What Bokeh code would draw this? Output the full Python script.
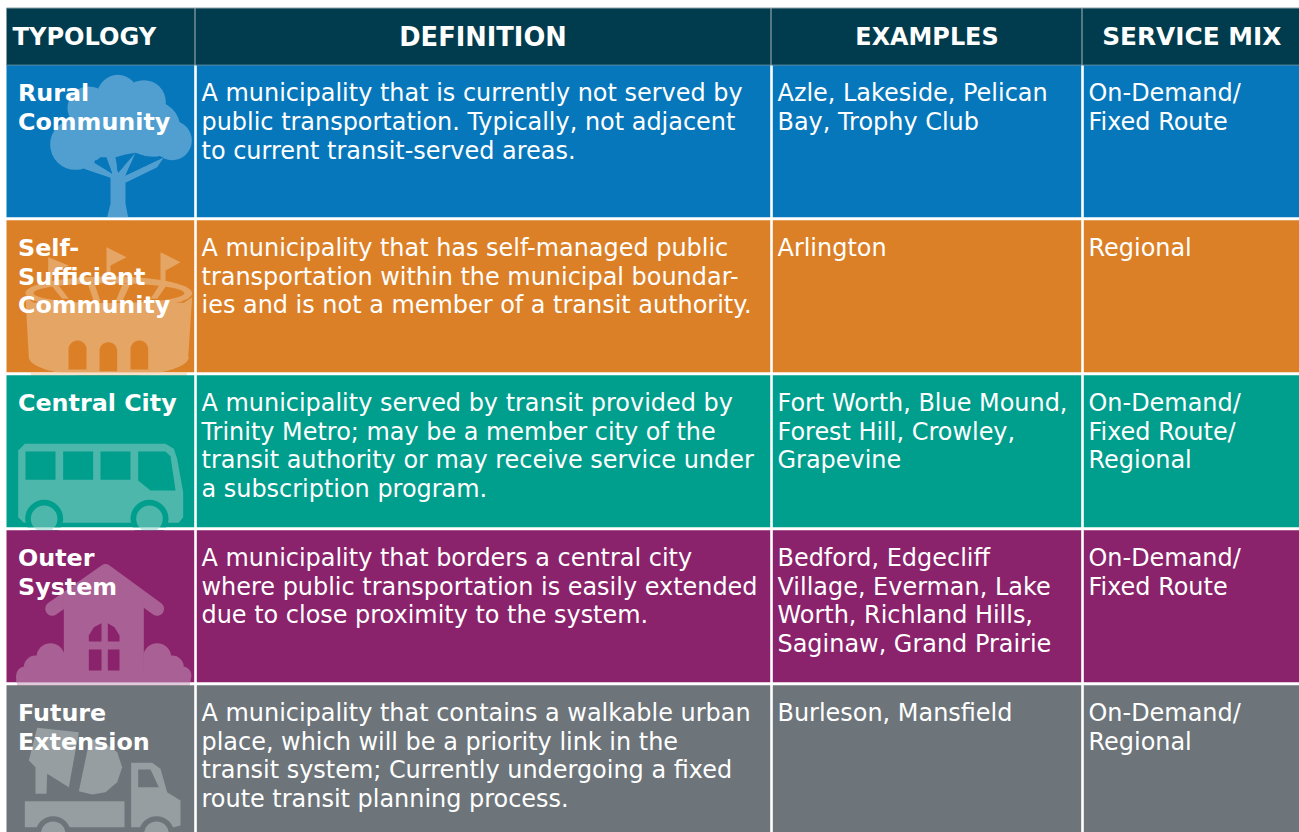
import numpy as np
from bokeh.plotting import figure
from bokeh.models import Range1d
from bokeh.embed import file_html
from bokeh.resources import INLINE
from bokeh.core.properties import value

headers = ["TYPOLOGY", "DEFINITION", "EXAMPLES", "SERVICE MIX"]
typology = [["Rural", "Community"], ["Self-", "Sufficient", "Community"], ["Central City"],
            ["Outer", "System"], ["Future", "Extension"]]
definition = [
    ["A municipality that is currently not served by", "public transportation. Typically, not adjacent", "to current transit-served areas."],
    ["A municipality that has self-managed public", "transportation within the municipal boundar-", "ies and is not a member of a transit authority."],
    ["A municipality served by transit provided by", "Trinity Metro; may be a member city of the", "transit authority or may receive service under", "a subscription program."],
    ["A municipality that borders a central city", "where public transportation is easily extended", "due to close proximity to the system."],
    ["A municipality that contains a walkable urban", "place, which will be a priority link in the", "transit system; Currently undergoing a fixed", "route transit planning process."],
]
examples = [
    ["Azle, Lakeside, Pelican", "Bay, Trophy Club"],
    ["Arlington"],
    ["Fort Worth, Blue Mound,", "Forest Hill, Crowley,", "Grapevine"],
    ["Bedford, Edgecliff", "Village, Everman, Lake", "Worth, Richland Hills,", "Saginaw, Grand Prairie"],
    ["Burleson, Mansfield"],
]
service = [
    ["On-Demand/", "Fixed Route"],
    ["Regional"],
    ["On-Demand/", "Fixed Route/", "Regional"],
    ["On-Demand/", "Fixed Route"],
    ["On-Demand/", "Regional"],
]
row_colors = ["#0777BB", "#DC8027", "#009E8C", "#8A236B", "#6D757A"]
icon_colors = ["#519FD0", "#E5A564", "#4CB7AA", "#A96095", "#969EA1"]
header_color = "#003C4D"

W, H = 1299, 832
col_x = [6, 195.5, 771.5, 1082.5, 1299]
row_y = [65, 219.7, 374.7, 529.8, 684.8, 840]
GAP = 2.8
FONT = "DejaVu Sans"

p = figure(width=W, height=H, x_range=Range1d(0, W), y_range=Range1d(H, 0),
           output_backend="svg", toolbar_location=None, min_border=0,
           outline_line_color=None, background_fill_color="white", border_fill_color="white")
p.axis.visible = False
p.grid.visible = False
p.styles = {"position": "absolute", "left": "0px", "top": "0px"}


def poly(pts, color, oy=0, s=1 / 3):
    p.patch([a * s for a, _ in pts], [oy + b * s for _, b in pts], fill_color=color, line_color=None)


def disc(cx, cy, r, color, oy=0, s=1 / 3):
    p.circle([cx * s], [oy + cy * s], radius=r * s, fill_color=color, line_color=None)


def segment_below(cx, cy, r, y0):
    """Part of a disc lying below y0, used where an icon spills into a white gap."""
    if cy + r <= y0:
        return None
    a0 = np.arcsin(np.clip((y0 - cy) / r, -1, 1))
    t = np.linspace(a0, np.pi - a0, 24)
    return cx + r * np.cos(t), cy + r * np.sin(t)


def tree(c, bg):
    for cx, cy, r in [(225, 432, 76), (352, 285, 62), (430, 305, 66), (265, 322, 64), (515, 420, 59),
                      (455, 385, 85), (350, 395, 105), (275, 400, 70)]:
        disc(cx, cy, r, c)
    poly([(320, 650), (330, 610), (330, 532), (250, 505), (280, 480), (335, 520), (318, 470), (340, 470),
          (353, 517), (405, 457), (375, 525), (490, 470), (470, 500), (375, 547), (375, 610), (383, 650)], c)
    poly([(345, 470), (353, 517), (405, 457), (375, 462)], bg)
    poly([(280, 486), (300, 470), (318, 470), (335, 520)], bg)
    poly([(375, 525), (405, 457), (435, 467), (490, 470)], bg)


def stadium(c, bg):
    o = 215
    for q in [[(143, 125), (205, 150), (155, 172), (155, 215), (143, 215)],
              [(318, 95), (378, 125), (330, 150), (330, 215), (318, 215)],
              [(480, 110), (540, 140), (495, 165), (495, 215), (480, 215)]]:
        poly(q, c, oy=o)
    t = np.linspace(0, 2 * np.pi, 60)
    rim = [(325 + 250 * np.cos(a), 233 + 50 * np.sin(a)) for a in t]
    inner = [(325 + 226 * np.cos(a), 233 + 30 * np.sin(a)) for a in t]
    poly(rim, c, oy=o)
    poly(inner, bg, oy=o)
    for q in [[(150, 207), (172, 207), (205, 250), (185, 250)],
              [(262, 205), (282, 205), (300, 258), (280, 258)],
              [(345, 258), (367, 205), (390, 205), (365, 258)],
              [(478, 207), (500, 207), (470, 250), (450, 250)]]:
        poly(q, c, oy=o)
    body = [(75, 245), (100, 262), (325, 263), (550, 262), (575, 245), (563, 425)] + \
           [(325 + 240 * np.cos(x), 425 + 60 * np.sin(x)) for x in np.linspace(0, np.pi, 40)]
    poly(body, c, oy=o)
    for x0, x1, top, bot in [(204, 258, 375, 462), (297, 350, 380, 467), (390, 443, 375, 462)]:
        mx, r = (x0 + x1) / 2, (x1 - x0) / 2
        arch = [(x0, bot)] + [(mx - r * np.cos(x), top + r - r * np.sin(x)) for x in np.linspace(0, np.pi, 20)] + [(x1, bot)]
        poly(arch, bg, oy=o)


def bus(c, bg):
    o = 215
    poly([(53, 905), (53, 705), (73, 685), (495, 685), (520, 700), (530, 730), (548, 830), (548, 905), (535, 922),
          (70, 922)], c, oy=o)
    for x0, x1 in [(75, 165), (188, 278), (300, 390)]:
        poly([(x0, 708), (x1, 708), (x1, 793), (x0, 793)], bg, oy=o)
    poly([(413, 708), (495, 708), (510, 722), (525, 825), (450, 825), (413, 795)], bg, oy=o)
    for cx in [131, 447]:
        disc(cx, 910, 57, bg, oy=o)
        disc(cx, 910, 40, c, oy=o)


def house(c, bg):
    o = 525
    p.line([155 / 3, 315 / 3, 470 / 3], [o + 250 / 3, o + 137 / 3, o + 250 / 3], line_color=c, line_width=14,
           line_cap="round", line_join="round")
    poly([(315, 130), (430, 215), (430, 475), (190, 475), (190, 215)], c, oy=o)
    for cx, cy, r in [(150, 395, 42), (105, 425, 35), (75, 450, 28), (470, 395, 42), (515, 425, 35), (545, 450, 28)]:
        disc(cx, cy, r, c, oy=o)
    poly([(47, 450), (570, 450), (570, 475), (47, 475)], c, oy=o)
    poly([(105, 430), (192, 405), (192, 460), (105, 460)], c, oy=o)
    poly([(515, 430), (428, 405), (428, 460), (515, 460)], c, oy=o)
    poly([(265, 348), (265, 330), (280, 305), (303, 293), (303, 348)], bg, oy=o)
    poly([(322, 293), (342, 305), (357, 330), (357, 348), (322, 348)], bg, oy=o)
    poly([(265, 372), (303, 372), (303, 435), (265, 435)], bg, oy=o)
    poly([(322, 372), (357, 372), (357, 435), (322, 435)], bg, oy=o)


def truck(c, bg):
    o = 525
    poly([(110, 607), (235, 620), (205, 785), (140, 745), (138, 805), (105, 805), (105, 725), (85, 705)], c, oy=o)
    poly([(268, 640), (310, 650), (350, 680), (365, 725), (350, 770), (315, 800), (275, 807), (235, 797)], c, oy=o)
    poly([(73, 827), (372, 827), (372, 905), (73, 905)], c, oy=o)
    poly([(392, 712), (455, 712), (480, 730), (500, 800), (540, 825), (540, 900), (520, 905), (392, 905)], c, oy=o)
    poly([(413, 732), (450, 732), (475, 785), (413, 785)], bg, oy=o)
    for cx in [158, 468]:
        disc(cx, 925, 53, bg, oy=o)
        disc(cx, 925, 37, c, oy=o)


icons = [tree, stadium, bus, house, truck]
spills = [[], [(108.3, 356.7, 80)], [(43.7, 518.3, 13.3), (149, 518.3, 13.3)], [(103, 675, 87)], []]

# header band
p.quad(left=[col_x[0]], right=[col_x[-1]], top=[7.5], bottom=[row_y[0]], fill_color=header_color, line_color=None)
p.line([col_x[0], col_x[-1]], [7.5, 7.5], line_color="#8FA3AA", line_width=1)
p.line([col_x[0], col_x[-1]], [64.6, 64.6], line_color="#5F8A99", line_width=1)

for i, (bg, ic, draw) in enumerate(zip(row_colors, icon_colors, icons)):
    top = row_y[i]
    bot = row_y[i + 1] - GAP
    p.quad(left=[col_x[0]], right=[col_x[-1]], top=[top], bottom=[bot], fill_color=bg, line_color=None)
    draw(ic, bg)
    p.quad(left=[0], right=[W], top=[bot], bottom=[row_y[i + 1]], fill_color="white", line_color=None)
    for sp in spills[i]:
        seg = segment_below(sp[0], sp[1], sp[2], bot)
        if seg is not None:
            p.patch(seg[0], seg[1], fill_color=ic, fill_alpha=0.35, line_color=None)

for cx in col_x[1:-1]:
    p.line([cx - 1, cx - 1], [7.5, row_y[0]], line_color="#8FA3AA", line_width=1.2)
    p.quad(left=[cx - 1.8], right=[cx + 0.8], top=[row_y[0]], bottom=[H], fill_color="white", line_color=None)

LH = 28.8
FS_BODY = "23.95px"
FS_BOLD = "23.8px"
FS_HEAD = ["24.1px", "25.7px", "23.9px", "24.8px"]


def put(xs, ys, txt, size, bold=False, align="left"):
    p.text(x=xs, y=ys, text=txt, text_font=value(FONT), text_font_size=size, text_color="white",
           text_font_style="bold" if bold else "normal", text_baseline="alphabetic", text_align=align)


head_x = [12, (col_x[1] + col_x[2]) / 2 - 1, (col_x[2] + col_x[3]) / 2 - 0.5, (col_x[3] + col_x[4]) / 2 + 0.5]
aligns = ["left", "center", "center", "center"]
head_y = [36.5, 36.5, 36.5, 36]
for h, hx, hy, al, fs in zip(headers, head_x, head_y, aligns, FS_HEAD):
    put([hx], [hy], [h], fs, True, al)

for i in range(5):
    base = row_y[i] + 27.5
    for col, x0, bold, data in [(0, 17.5, True, typology), (1, 201, False, definition),
                                (2, 777, False, examples), (3, 1088, False, service)]:
        lines = data[i]
        put([x0] * len(lines), [base + k * LH for k in range(len(lines))], lines, FS_BOLD if bold else FS_BODY, bold)

open("out.html", "w").write(file_html(p, INLINE))
